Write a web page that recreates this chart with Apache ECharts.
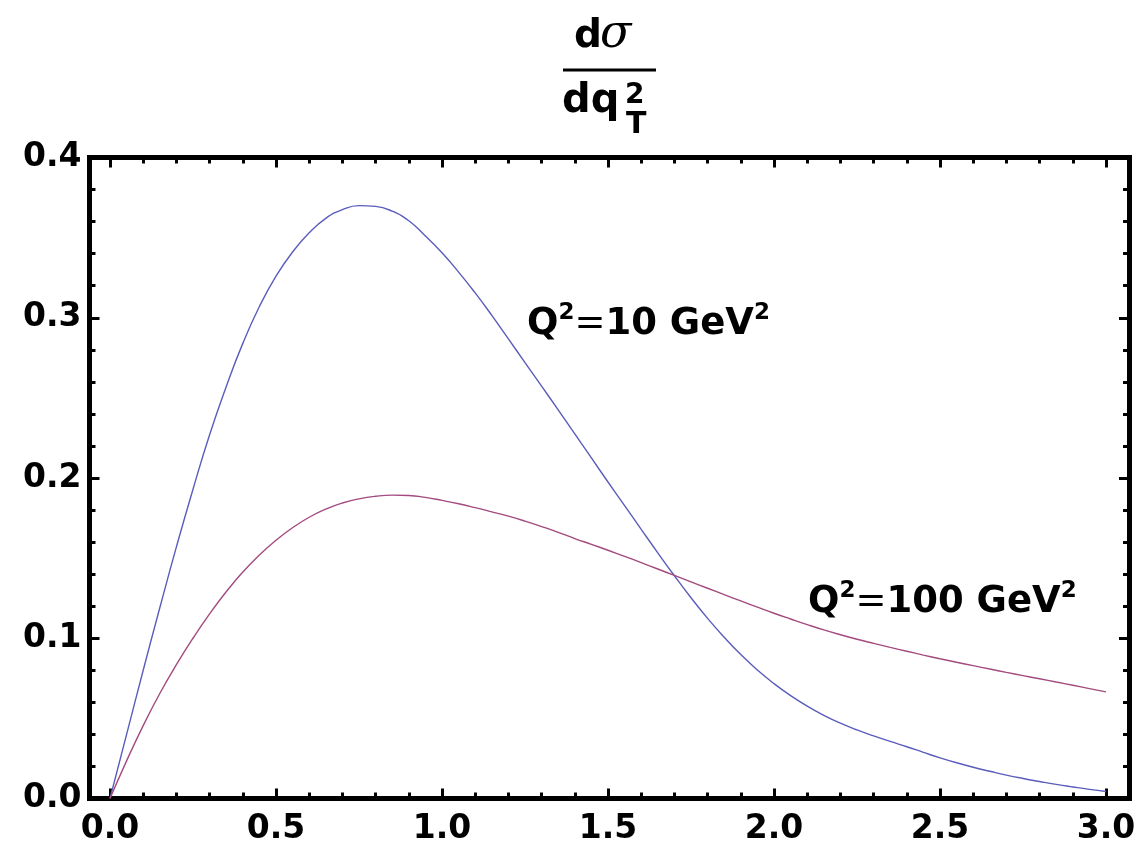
<!DOCTYPE html>
<html>
<head>
<meta charset="utf-8">
<script src="https://cdn.jsdelivr.net/npm/echarts@6/dist/echarts.min.js"></script>
<style>
  html, body { margin: 0; padding: 0; background: #fff; }
  #chart { width: 1143px; height: 848px; }
</style>
</head>
<body>
<div id="chart"></div>
<script>
// q_T^2 values (GeV^2), step 0.05
var qT2 = [0, 0.05, 0.1, 0.15, 0.2, 0.25, 0.3, 0.35, 0.4, 0.45, 0.5, 0.55, 0.6, 0.65, 0.7, 0.75,
  0.8, 0.85, 0.9, 0.95, 1.0, 1.05, 1.1, 1.15, 1.2, 1.25, 1.3, 1.35, 1.4, 1.45, 1.5, 1.55, 1.6,
  1.65, 1.7, 1.75, 1.8, 1.85, 1.9, 1.95, 2.0, 2.05, 2.1, 2.15, 2.2, 2.25, 2.3, 2.35, 2.4, 2.45,
  2.5, 2.55, 2.6, 2.65, 2.7, 2.75, 2.8, 2.85, 2.9, 2.95, 3.0]
// Q^2 = 10 GeV^2
var q10 = [0, 0.040, 0.080, 0.119, 0.157, 0.193, 0.227, 0.257, 0.284, 0.307, 0.326, 0.341, 0.353,
  0.362, 0.3675, 0.370, 0.3695, 0.3665, 0.3605, 0.351, 0.3405, 0.3285, 0.3155, 0.3015, 0.2868,
  0.272, 0.2573, 0.2425, 0.2275, 0.2125, 0.1975, 0.1828, 0.1680, 0.1533, 0.1390, 0.1253, 0.1124,
  0.1006, 0.0898, 0.0802, 0.0717, 0.0642, 0.0576, 0.0519, 0.0470, 0.0428, 0.0391, 0.0356, 0.0323,
  0.0288, 0.0254, 0.0223, 0.0195, 0.0170, 0.0146, 0.0125, 0.0106, 0.0088, 0.0072, 0.0057, 0.0044]
// Q^2 = 100 GeV^2
var q100 = [0, 0.0235, 0.0455, 0.0655, 0.0835, 0.1000, 0.1152, 0.1290, 0.1413, 0.1520, 0.1612,
  0.1690, 0.1755, 0.1806, 0.1844, 0.1870, 0.1886, 0.1893, 0.1891, 0.1879, 0.1860, 0.1839, 0.1815,
  0.1789, 0.1762, 0.1731, 0.1697, 0.1661, 0.1622, 0.1586, 0.1549, 0.1511, 0.1472, 0.1432, 0.1392,
  0.1352, 0.1312, 0.1272, 0.1233, 0.1194, 0.1156, 0.1120, 0.1085, 0.1052, 0.1022, 0.0994, 0.0968,
  0.0943, 0.0919, 0.0895, 0.0872, 0.0850, 0.0829, 0.0808, 0.0787, 0.0767, 0.0747, 0.0727, 0.0707,
  0.0686, 0.0665]

var FONT = 'DejaVu Sans'
var chart = echarts.init(document.getElementById('chart'))

function pairs(xs, ys) {
  return xs.map(function (x, i) { return [x, ys[i]] })
}

var tickStyle = { color: '#000', width: 3 }
var labelStyle = {
  color: '#000', fontFamily: FONT, fontWeight: 'bold', fontSize: 33,
  formatter: function (v) { return v.toFixed(1) }
}
function xAx(pos, showLabel) {
  return {
    type: 'value', gridIndex: 0, position: pos, min: 0, max: 3, interval: 0.5,
    axisLine: { show: false, onZero: false },
    axisTick: { show: true, inside: true, length: 10, lineStyle: tickStyle },
    minorTick: { show: true, splitNumber: 5, length: 6, lineStyle: tickStyle },
    splitLine: { show: false },
    axisLabel: Object.assign({ show: showLabel, margin: 14 }, labelStyle)
  }
}
function yAx(pos, offset, showLabel) {
  return {
    type: 'value', gridIndex: 0, position: pos, offset: offset, min: 0, max: 0.4, interval: 0.1,
    axisLine: { show: false, onZero: false },
    axisTick: { show: true, inside: true, length: 10, lineStyle: tickStyle },
    minorTick: { show: true, splitNumber: 5, length: 6, lineStyle: tickStyle },
    splitLine: { show: false },
    axisLabel: Object.assign({ show: showLabel, margin: 8 }, labelStyle)
  }
}

var sup = { font: 'bold 23px "DejaVu Sans"', fill: '#000', lineHeight: 26, verticalAlign: 'top' }
var big = { font: 'bold 37px "DejaVu Sans"', fill: '#000', lineHeight: 44 }
var eq = { font: '37px "DejaVu Sans"', fill: '#000', lineHeight: 44 }

var option = {
  backgroundColor: '#fff',
  animation: false,
  grid: [
    // plotting area: q_T^2 from 0 to 3
    { left: 110, right: 37, top: 157.5, bottom: 49.5, outerBoundsMode: 'none' },
    // frame, a bit wider than the plotting range
    { left: 89.5, right: 13.5, top: 157.5, bottom: 49.5, outerBoundsMode: 'none',
      show: true, borderColor: '#000', borderWidth: 5, backgroundColor: 'transparent' }
  ],
  xAxis: [
    xAx('bottom', true),
    xAx('top', false),
    { type: 'value', gridIndex: 1, show: false, min: 0, max: 1 }
  ],
  yAxis: [
    yAx('left', 20.5, true),
    yAx('right', 23, false),
    { type: 'value', gridIndex: 1, show: false, min: 0, max: 1 }
  ],
  series: [
    {
      name: 'Q2=10', type: 'line', xAxisIndex: 0, yAxisIndex: 0, data: pairs(qT2, q10),
      showSymbol: false, smooth: 0.5, lineStyle: { color: '#5a5dbb', width: 1.4 }
    },
    {
      name: 'Q2=100', type: 'line', xAxisIndex: 0, yAxisIndex: 0, data: pairs(qT2, q100),
      showSymbol: false, smooth: 0.5, lineStyle: { color: '#a34a7f', width: 1.4 }
    }
  ],
  graphic: [
    // title: d sigma / d q_T^2
    { type: 'text', left: 574, top: 17, style: { text: 'd', font: 'bold 39px "DejaVu Sans"', fill: '#000' } },
    { type: 'text', left: 600, top: 12, style: { text: 'σ', font: 'italic 46px "DejaVu Serif"', fill: '#000' } },
    { type: 'rect', shape: { x: 563, y: 68.5, width: 93, height: 3 }, style: { fill: '#000' } },
    { type: 'text', left: 562, top: 82, style: { text: 'dq', font: 'bold 40px "DejaVu Sans"', fill: '#000' } },
    { type: 'text', left: 625, top: 82, style: { text: '2', font: 'bold 28px "DejaVu Sans"', fill: '#000' } },
    { type: 'text', left: 626, top: 110, style: { text: 'T', font: 'bold 30px "DejaVu Sans"', fill: '#000' } },
    // curve labels
    {
      type: 'text', left: 527, top: 302,
      style: { text: '{b|Q}{s|2}{e|=}{b|10 GeV}{s|2}', rich: { b: big, e: eq, s: sup } }
    },
    {
      type: 'text', left: 808, top: 580,
      style: { text: '{b|Q}{s|2}{e|=}{b|100 GeV}{s|2}', rich: { b: big, e: eq, s: sup } }
    }
  ]
}
chart.setOption(option)
</script>
</body>
</html>
